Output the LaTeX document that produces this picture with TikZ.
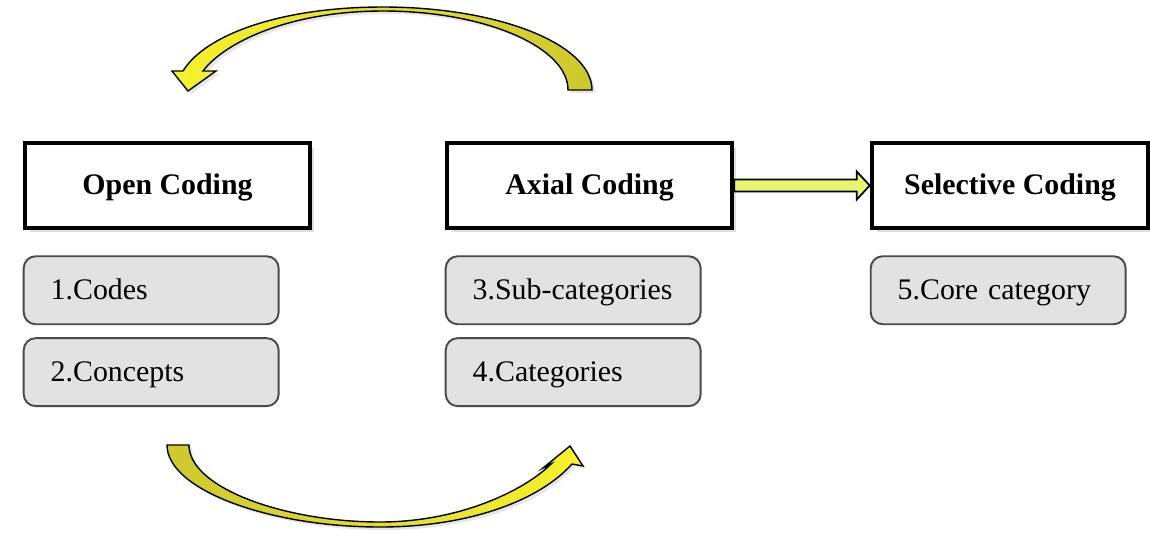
\documentclass[tikz,border=0pt]{standalone}
\usepackage{fontspec}
\setmainfont{Liberation Serif}
\usetikzlibrary{positioning,calc,shadows}
\definecolor{boxgray}{HTML}{E2E2E2}
\definecolor{edgegray}{HTML}{4A4A4A}
\definecolor{arrowyellow}{HTML}{F6F22C}
\definecolor{arrowolive}{HTML}{CDC92E}
\definecolor{arrowlime}{HTML}{E6F66E}
\tikzset{
	stage/.style={draw=black, line width=2.6pt, fill=white, minimum width=5.7cm, minimum height=1.7cm,
		text height=13.6pt, text depth=3.4pt, font=\fontsize{17}{20}\selectfont\bfseries,
		drop shadow={opacity=.25, shadow xshift=.09cm, shadow yshift=-.09cm}},
	item/.style={draw=edgegray, line width=1.1pt, fill=boxgray, rounded corners=.24cm,
		text width=4.02cm, inner xsep=.54cm, minimum height=1.36cm, align=left,
		text height=13.6pt, text depth=3.4pt, font=\fontsize{17}{20}\selectfont},
	ribbon/.style={draw=black, line width=.8pt,
		drop shadow={opacity=.2, shadow xshift=.06cm, shadow yshift=-.06cm}}
}

\begin{document}
\begin{tikzpicture}[x=.02cm, y=-.02cm]
				\useasboundingbox (0,0) rectangle (1150,532);
				\node[stage] (open) at (167.5,185.5) {Open Coding};
				\node[stage] (axial) at (589.5,185.5) {Axial Coding};
				\node[stage, minimum width=5.52cm] (selective) at (1010,185.5) {Selective Coding};
				\node[item, below=.5cm of open.south west, anchor=north west] (codes) {1.Codes};
				\node[item, below=.24cm of codes] (concepts) {2.Concepts};
				\node[item, below=.5cm of axial.south west, anchor=north west] (subcat) {3.Sub-categories};
				\node[item, below=.24cm of subcat] (cat) {4.Categories};
				\node[item, below=.5cm of selective.south west, anchor=north west] (core) {5.Core category};
				\draw[fill=arrowlime, line width=1pt] ($(axial.east)+(0,-6)$) -- ($(selective.west)+(-13,-6)$)
					-- ($(selective.west)+(-13,-14)$) -- (selective.west) -- ($(selective.west)+(-13,14)$)
					-- ($(selective.west)+(-13,6)$) -- ($(axial.east)+(0,6)$) -- cycle;
				\draw[ribbon, left color=arrowyellow, right color=arrowolive]
					(592,90) .. controls (592,44) and (498,7) .. (383,7)
					.. controls (280,7) and (205,35) .. (183,71)
					-- (172,71) -- (188,91) -- (216,71) -- (203,71)
					.. controls (225,42) and (290,11) .. (383,11)
					.. controls (485,11) and (568,47) .. (568,90) -- cycle;
				\draw[ribbon, left color=arrowolive, right color=arrowyellow]
					(167,445) .. controls (167,490) and (270,527) .. (380,527)
					.. controls (470,527) and (540,500) .. (572,464)
					-- (583,466) -- (570,446) -- (543,468) -- (551,464)
					.. controls (525,490) and (460,522) .. (380,522)
					.. controls (285,522) and (189,488) .. (189,445) -- cycle;
			\end{tikzpicture}
\end{document}
